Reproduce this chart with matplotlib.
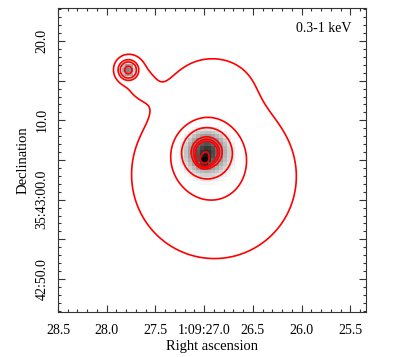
import numpy as np
import matplotlib.pyplot as plt
from matplotlib.colors import LogNorm
from matplotlib.ticker import MultipleLocator, FixedLocator, FixedFormatter

plt.rcParams['font.family'] = ['Liberation Serif', 'DejaVu Serif']

# axis ranges: RA seconds (1:09:xx) and Dec offset in arcsec from 35:43:00
ra_lim = (28.5, 25.34)
dec_lim = (-14.16, 24.16)
ra0 = 27.0
as_per_sec = 12.26   # arcsec per RA second at this declination

# emission model, offsets in arcsec (u west, v north)
# main source: extended beta core + compact peak
main_pos = (0.3, 6.0)
main_amp, main_rc, main_q = 40.0, 2.0, 2.0
peak_pos = (0.0, 5.0)
peak_amp, peak_sig = 40.0, 0.45
# diffuse halo around the main source
halo_pos = (1.3, 2.8)
halo_sig = (7.0, 7.0)
halo_amp = 2.85
halo2_pos = (1.0, 15.2)
halo2_sig = (4.0, 2.8)
halo2_amp = 1.03
# companion source NE
comp_pos = (-9.55, 16.35)
comp_amp, comp_sig = 15.5, 0.64
comp_halo_pos = (-9.55, 16.9)
comp_halo_amp, comp_halo_sig = 0.9, 2.4
bridge_pos = (-8.0, 13.8)
bridge_amp, bridge_sig = 0.4, 1.8

levels = [1.0, 3.0, 5.5, 13.0, 17.0, 21.0, 45.0]
black_level = [65.0]


def gauss(u, v, pos, amp, su, sv):
    return amp * np.exp(-0.5 * (((u - pos[0]) / su)**2 + ((v - pos[1]) / sv)**2))


def field(ra, dec):
    u = (ra0 - ra) * as_per_sec
    v = dec
    r2 = (u - main_pos[0])**2 + (v - main_pos[1])**2
    f = main_amp * (1 + r2 / main_rc**2)**(-main_q)
    f += gauss(u, v, peak_pos, peak_amp, peak_sig, peak_sig)
    f += gauss(u, v, halo_pos, halo_amp, halo_sig[0], halo_sig[1])
    f += gauss(u, v, halo2_pos, halo2_amp, halo2_sig[0], halo2_sig[1])
    f += gauss(u, v, comp_pos, comp_amp, comp_sig, comp_sig)
    f += gauss(u, v, comp_halo_pos, comp_halo_amp, comp_halo_sig, comp_halo_sig)
    f += gauss(u, v, bridge_pos, bridge_amp, bridge_sig, bridge_sig)
    return f


fig = plt.figure(figsize=(4.15, 3.57), dpi=100)
ax = fig.add_axes([58 / 415, 45 / 357, 308 / 415, 304 / 357])

# coarse image (0.492" pixels)
pix = 0.492
dec_px = np.arange(dec_lim[0], dec_lim[1] + pix, pix)
ra_px = np.arange(ra_lim[1], ra_lim[0] + pix / as_per_sec, pix / as_per_sec)
RAp, DECp = np.meshgrid(ra_px, dec_px)
img = field(RAp, DECp)
ax.pcolormesh(ra_px, dec_px, img, cmap='gray_r', norm=LogNorm(vmin=4, vmax=70),
              shading='nearest', rasterized=True)

# smooth contours
ra_f = np.linspace(ra_lim[1], ra_lim[0], 500)
dec_f = np.linspace(dec_lim[0], dec_lim[1], 500)
RA, DEC = np.meshgrid(ra_f, dec_f)
F = field(RA, DEC)
ax.contour(RA, DEC, F, levels=levels, colors='red', linewidths=1.2)
ax.contour(RA, DEC, F, levels=black_level, colors='black', linewidths=1.0)

ax.set_xlim(ra_lim)
ax.set_ylim(dec_lim)

xticks = [28.5, 28.0, 27.5, 27.0, 26.5, 26.0, 25.5]
xlabels = ['28.5', '28.0', '27.5', '1:09:27.0', '26.5', '26.0', '25.5']
yticks = [-10, -5, 0, 5, 10, 15, 20]
ylabels = ['42:50.0', '', '35:43:00.0', '', '10.0', '', '20.0']
ax.xaxis.set_major_locator(FixedLocator(xticks))
ax.xaxis.set_major_formatter(FixedFormatter(xlabels))
ax.xaxis.set_minor_locator(MultipleLocator(0.1))
ax.yaxis.set_major_locator(FixedLocator(yticks))
ax.yaxis.set_major_formatter(FixedFormatter(ylabels))
ax.yaxis.set_minor_locator(MultipleLocator(1))
ax.tick_params(which='both', direction='in', top=True, right=True, colors='#333333',
               labelcolor='black', labelsize=10)
ax.tick_params(which='major', length=5, width=0.8)
ax.tick_params(which='minor', length=2.5, width=0.8)
ax.tick_params(axis='x', pad=9)
ax.tick_params(axis='y', pad=7)
for lab in ax.get_yticklabels():
    lab.set_rotation(90)
    lab.set_va('center')
for s in ax.spines.values():
    s.set_linewidth(0.8)
    s.set_color('#333333')

ax.set_xlabel('Right ascension', fontsize=10.5, labelpad=2)
ax.set_ylabel('Declination', fontsize=10.5, labelpad=4)
ax.text(0.951, 0.931, '0.3-1 keV', transform=ax.transAxes, ha='right', va='center',
        fontsize=10)

fig.savefig('out.png', dpi=100)
